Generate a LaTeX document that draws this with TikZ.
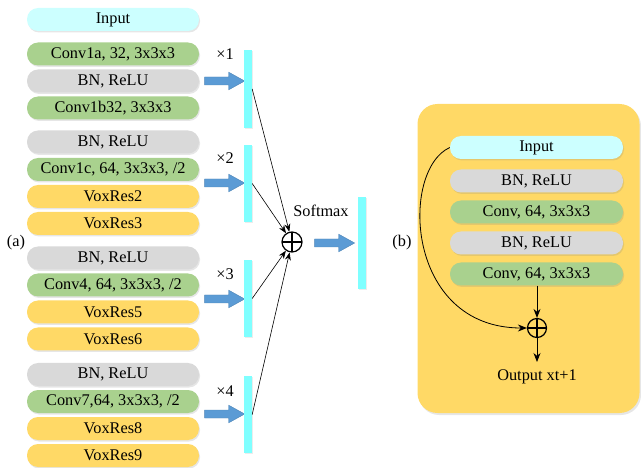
\documentclass[tikz,border=0pt]{standalone}
\usepackage{fontspec}
\setmainfont{Liberation Serif}
\usetikzlibrary{arrows.meta,shapes.arrows,shadows}
\definecolor{cin}{HTML}{CCFFFF}
\definecolor{cgreen}{HTML}{A9D18E}
\definecolor{cgray}{HTML}{D9D9D9}
\definecolor{cyel}{HTML}{FFD966}
\definecolor{cbar}{HTML}{7FFFFF}
\definecolor{cblue}{HTML}{5B9BD5}
\begin{document}
\begin{tikzpicture}[x=1pt,y=-1pt,
  txt/.style={font=\fontsize{16.3}{19}\selectfont},
  blk/.style={txt, rectangle, rounded corners=11pt, minimum width=172pt, minimum height=23pt, inner sep=0pt,
    drop shadow={opacity=0.2, shadow xshift=1pt, shadow yshift=-1.5pt}},
  inb/.style={blk, fill=cin},
  grb/.style={blk, fill=cgreen},
  gyb/.style={blk, fill=cgray},
  yeb/.style={blk, fill=cyel},
  bar/.style={rectangle, fill=cbar, minimum width=8pt, inner sep=0pt,
    drop shadow={opacity=0.15, shadow xshift=1pt, shadow yshift=-1pt}},
  barrow/.style={single arrow, fill=cblue, draw=cblue!85!black, line width=0.4pt, inner sep=3.8pt,
    single arrow head extend=4.8pt, single arrow tip angle=58, minimum height=40pt, shape border rotate=0},
  oplus/.style={circle, draw, line width=1.2pt, minimum size=20pt, inner sep=0pt,
    path picture={\draw[line width=1.2pt] (path picture bounding box.north) -- (path picture bounding box.south)
      (path picture bounding box.west) -- (path picture bounding box.east);}},
  con/.style={-{Stealth[length=8pt,width=6pt]}, line width=0.6pt},
  con2/.style={-{Stealth[length=9pt,width=7pt]}, line width=0.8pt}
]
\useasboundingbox (0,0) rectangle (641,468);

% left column
\node[inb] (i0) at (113,19.5) {Input};
\node[grb] (c1a) at (113,54) {Conv1a, 32, 3x3x3};
\node[gyb] (bn1) at (113,81) {BN, ReLU};
\node[grb] (c1b) at (113,108) {Conv1b32, 3x3x3};
\node[gyb] (bn2) at (113,142) {BN, ReLU};
\node[grb] (c1c) at (113,169.5) {Conv1c, 64, 3x3x3, /2};
\node[yeb] (v2) at (113,196.5) {VoxRes2};
\node[yeb] (v3) at (113,223.5) {VoxRes3};
\node[gyb] (bn3) at (113,258) {BN, ReLU};
\node[grb] (c4) at (113,285) {Conv4, 64, 3x3x3, /2};
\node[yeb] (v5) at (113,312) {VoxRes5};
\node[yeb] (v6) at (113,339) {VoxRes6};
\node[gyb] (bn4) at (113,374.5) {BN, ReLU};
\node[grb] (c7) at (113,401.5) {Conv7,64, 3x3x3, /2};
\node[yeb] (v8) at (113,428.5) {VoxRes8};
\node[yeb] (v9) at (113,455.5) {VoxRes9};

\node[txt] (la) at (16,243) {(a)};

% blue arrows
\node[barrow] (a1) at (221,81) {};
\node[barrow] (a2) at (221,183) {};
\node[barrow] (a3) at (221,299) {};
\node[barrow] (a4) at (221,414) {};

% bars
\node[bar, minimum height=78pt] (b1) at (248,89) {};
\node[bar, minimum height=77pt] (b2) at (248,183.5) {};
\node[bar, minimum height=77pt] (b3) at (248,298.5) {};
\node[bar, minimum height=77pt] (b4) at (248,414.5) {};

\node[txt] (x1) at (225,54) {×1};
\node[txt] (x2) at (225,158) {×2};
\node[txt] (x3) at (225,274) {×3};
\node[txt] (x4) at (225,391) {×4};

\node[oplus] (p) at (292,242) {};
\draw[con] (b1.east) -- (p);
\draw[con] (b2.east) -- (p);
\draw[con] (b3.east) -- (p);
\draw[con] (b4.east) -- (p);

\node[txt] (sm) at (321,211) {Softmax};
\node[barrow] (a5) at (331,243) {};
\node[bar, minimum height=92pt] (b5) at (361.5,243) {};

% right panel
\node[txt] (lb) at (402,243) {(b)};
\node[rectangle, rounded corners=20pt, fill=cyel, minimum width=222pt, minimum height=309pt,
  drop shadow={opacity=0.2, shadow xshift=1.5pt, shadow yshift=-2pt}] (panel) at (528.5,258.5) {};
\node[inb, minimum width=173pt] (ri) at (536.5,147.5) {Input};
\node[gyb, minimum width=173pt] (rb1) at (536.5,181) {BN, ReLU};
\node[grb, minimum width=173pt] (rc1) at (536.5,212) {Conv, 64, 3x3x3};
\node[gyb, minimum width=173pt] (rb2) at (536.5,243) {BN, ReLU};
\node[grb, minimum width=173pt] (rc2) at (536.5,274) {Conv, 64, 3x3x3};
\node[oplus, minimum size=19pt] (rp) at (537,328) {};
\coordinate (rout) at (537,362);
\node[txt] (ot) at (537,377) {Output xt+1};
\draw[con2] (rc2.south -| rp) -- (rp);
\draw[con2] (rp) -- (rout);
\draw[con2] (ri.west) .. controls (400,170) and (405,328) .. (rp.west);
\end{tikzpicture}
\end{document}
